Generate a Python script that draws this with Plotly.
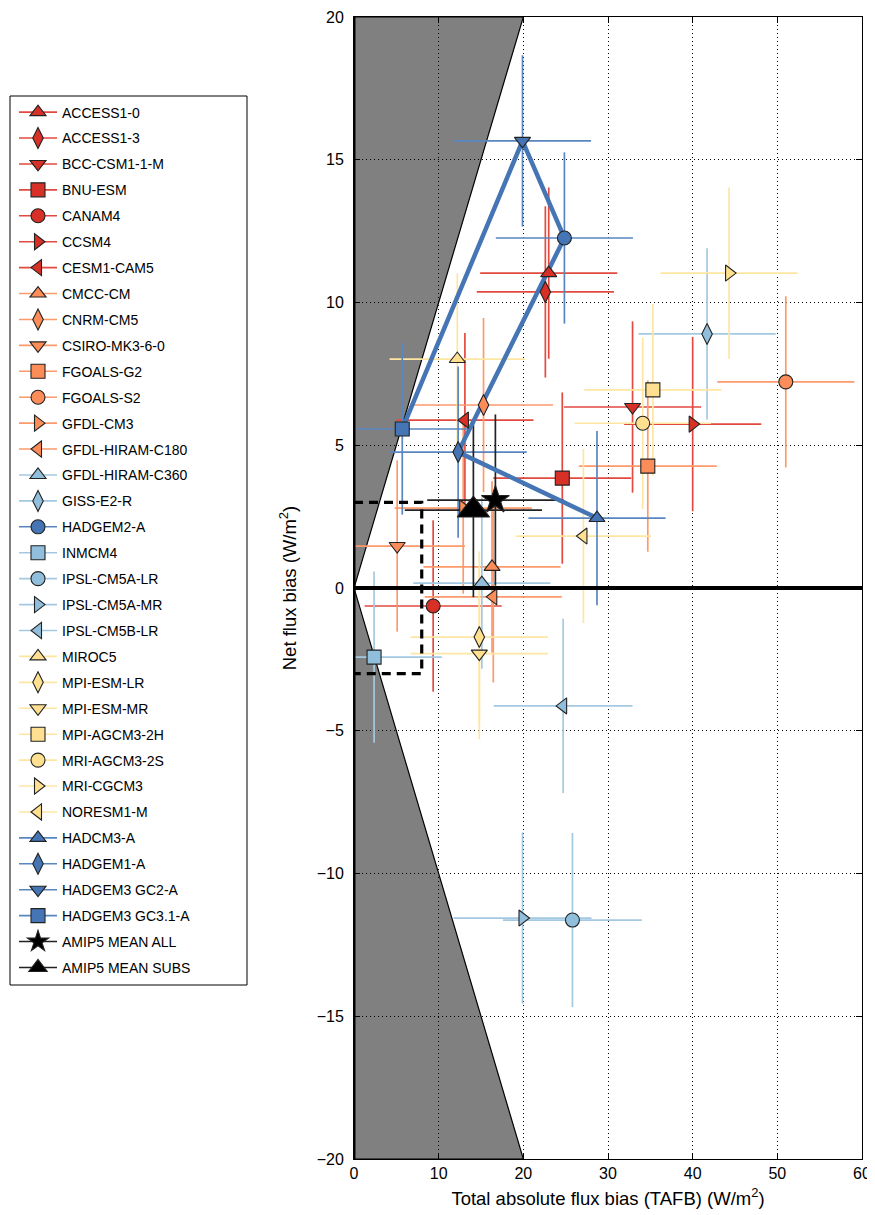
import plotly.graph_objects as go

# ---------------- data ----------------
MODELS = ["ACCESS1-0", "ACCESS1-3", "BCC-CSM1-1-M", "BNU-ESM", "CANAM4", "CCSM4",
          "CESM1-CAM5", "CMCC-CM", "CNRM-CM5", "CSIRO-MK3-6-0", "FGOALS-G2",
          "FGOALS-S2", "GFDL-CM3", "GFDL-HIRAM-C180", "GFDL-HIRAM-C360",
          "GISS-E2-R", "HADGEM2-A", "INMCM4", "IPSL-CM5A-LR", "IPSL-CM5A-MR",
          "IPSL-CM5B-LR", "MIROC5", "MPI-ESM-LR", "MPI-ESM-MR", "MPI-AGCM3-2H",
          "MRI-AGCM3-2S", "MRI-CGCM3", "NORESM1-M", "HADCM3-A", "HADGEM1-A",
          "HADGEM3 GC2-A", "HADGEM3 GC3.1-A", "AMIP5 MEAN ALL", "AMIP5 MEAN SUBS"]

GROUP = ["red"] * 7 + ["orange"] * 7 + ["lightblue"] * 2 + ["blue"] + ["lightblue"] * 4 + \
        ["yellow"] * 7 + ["blue"] * 4 + ["black"] * 2

SYMBOLS = ["triangle-up", "diamond-tall", "triangle-down", "square", "circle", "triangle-right",
           "triangle-left",
           "triangle-up", "diamond-tall", "triangle-down", "square", "circle", "triangle-right",
           "triangle-left",
           "triangle-up", "diamond-tall", "circle", "square", "circle", "triangle-right",
           "triangle-left",
           "triangle-up", "diamond-tall", "triangle-down", "square", "circle", "triangle-right",
           "triangle-left",
           "triangle-up", "diamond-tall", "triangle-down", "square",
           "star", "triangle-up"]

TAFB = [23.0, 22.6, 32.9, 24.6, 9.35, 40.0, 13.1,
        16.3, 15.3, 5.1, 34.7, 51.0, 12.9, 16.45,
        15.1, 41.7, 24.85, 2.37, 25.8, 19.9, 24.7,
        12.2, 14.8, 14.8, 35.3, 34.1, 44.3, 27.1,
        28.7, 12.3, 19.9, 5.7,
        16.7, 14.1]

NET = [11.03, 10.37, 6.34, 3.85, -0.63, 5.74, 5.88,
       0.74, 6.41, 1.47, 4.27, 7.22, 2.80, -0.31,
       0.17, 8.9, 12.26, -2.42, -11.63, -11.56, -4.13,
       8.02, -1.72, -2.30, 6.94, 5.77, 11.03, 1.82,
       2.45, 4.76, 15.66, 5.57,
       3.08, 2.73]

TAFB_ERR = [8.1, 8.1, 8.1, 8.15, 8.1, 8.1, 8.1,
            8.1, 8.2, 8.0, 8.15, 8.1, 8.1, 8.1,
            8.1, 8.1, 8.1, 8.0, 8.2, 8.15, 8.2,
            8.0, 8.1, 8.1, 8.1, 8.05, 8.1, 8.0,
            8.1, 8.1, 8.1, 8.0,
            8.05, 8.1]

NET_ERR = [3.0, 3.0, 3.0, 3.0, 3.0, 3.05, 3.05,
           3.0, 3.05, 3.0, 3.0, 3.0, 3.0, 3.0,
           3.0, 3.0, 3.0, 3.0, 3.05, 3.0, 3.05,
           3.0, 3.0, 3.0, 3.0, 3.0, 3.0, 3.05,
           3.05, 3.0, 3.0, 3.0,
           3.0, 3.05]

# Hadley Centre model evolution path
PATH_MODELS = ["HADGEM3 GC3.1-A", "HADGEM3 GC2-A", "HADGEM2-A", "HADGEM1-A", "HADCM3-A"]

X_TICKS = [0, 10, 20, 30, 40, 50, 60]
Y_TICKS = [-20, -15, -10, -5, 0, 5, 10, 15, 20]
X_RANGE = [0, 60]
Y_RANGE = [-20, 20]
TAFB_THRESH = 8
NET_THRESH = 3

# ---------------- styles ----------------
MARKER_COL = {"red": "#d73027", "orange": "#fc8d59", "lightblue": "#91bfdb",
              "yellow": "#fee090", "blue": "#4575b4", "black": "#000000"}
ERR_COL = {"red": "#e34a3f", "orange": "#fc9a6c", "lightblue": "#a3c9e2",
           "yellow": "#fee6a2", "blue": "#5a86c0", "black": "#222222"}
SYM_SIZE = {"triangle-up": 14, "triangle-down": 14, "triangle-left": 14, "triangle-right": 14,
            "diamond-tall": 15, "square": 14, "circle": 14, "star": 21}

FONT = "Liberation Sans, Arial, sans-serif"

fig = go.Figure()

# error bars (drawn first)
for i, m in enumerate(MODELS):
    g = GROUP[i]
    fig.add_trace(go.Scatter(
        x=[TAFB[i]], y=[NET[i]], mode="markers",
        marker=dict(size=1, opacity=0),
        error_x=dict(type="data", array=[TAFB_ERR[i]], color=ERR_COL[g], thickness=1.7, width=0),
        error_y=dict(type="data", array=[NET_ERR[i]], color=ERR_COL[g], thickness=1.7, width=0),
        showlegend=False, hoverinfo="skip"))

# Hadley path
idx = [MODELS.index(m) for m in PATH_MODELS]
fig.add_trace(go.Scatter(
    x=[TAFB[i] for i in idx], y=[NET[i] for i in idx], mode="lines",
    line=dict(color="#4575b4", width=4.5), showlegend=False, hoverinfo="skip"))

# markers with legend
for i, m in enumerate(MODELS):
    g = GROUP[i]
    size = 28 if m == "AMIP5 MEAN SUBS" else SYM_SIZE[SYMBOLS[i]]
    fig.add_trace(go.Scatter(
        x=[TAFB[i]], y=[NET[i]], mode="lines+markers", name=m, legendgroup=m,
        line=dict(color=ERR_COL[g], width=1.6),
        marker=dict(symbol=SYMBOLS[i], size=size, color=MARKER_COL[g],
                    line=dict(color="#222222", width=1.1))))

ymax = Y_RANGE[1]
# page offset of the figure (body margin) is 8 px
PLOT_L, PLOT_W, PLOT_T, PLOT_H = 354, 508, 17, 1142


def px_x(p):
    return (p - PLOT_L) / PLOT_W


def px_y(p):
    return 1 - (p - PLOT_T) / PLOT_H


shapes = [
    # legend frame
    dict(type="rect", xref="paper", yref="paper", layer="above",
         x0=px_x(10), x1=px_x(247), y0=px_y(985), y1=px_y(96),
         fillcolor="white", line=dict(color="black", width=1)),
    # impossible region |net| > TAFB
    dict(type="path", xref="x", yref="y", layer="below",
         path=f"M 0,{ymax} L {ymax},{ymax} L 0,0 L {ymax},{-ymax} L 0,{-ymax} Z",
         fillcolor="#808080", line=dict(color="black", width=1.2)),
    # zero line
    dict(type="line", xref="paper", yref="y", x0=0, x1=1, y0=0, y1=0, layer="above",
         line=dict(color="black", width=4)),
    # left axis thick line
    dict(type="line", xref="x", yref="paper", x0=0, x1=0, y0=0, y1=1, layer="above",
         line=dict(color="black", width=3)),
    # threshold box
    dict(type="path", xref="x", yref="y", layer="above",
         path=f"M 0,{NET_THRESH} L {TAFB_THRESH},{NET_THRESH} L {TAFB_THRESH},{-NET_THRESH} L 0,{-NET_THRESH}",
         line=dict(color="black", width=3.2, dash="9px,6px")),
]

fig.update_layout(
    width=875, height=1215,
    margin=dict(l=346, r=21, t=9, b=64, autoexpand=False),
    paper_bgcolor="white", plot_bgcolor="white",
    font=dict(family=FONT, size=16, color="black"),
    shapes=shapes,
    showlegend=True,
    legend=dict(x=px_x(14), y=px_y(96.5), xanchor="left", yanchor="top",
                bgcolor="rgba(0,0,0,0)", borderwidth=0,
                font=dict(family=FONT, size=14, color="black"),
                tracegroupgap=4.72, itemsizing="trace", itemwidth=38),
    xaxis=dict(range=X_RANGE, tickvals=X_TICKS, showline=True, linecolor="black", linewidth=1,
               mirror="ticks", ticks="inside", ticklen=6, tickcolor="black",
               showgrid=True, gridcolor="black", gridwidth=1, griddash="1px,3px",
               zeroline=False, tickfont=dict(size=16),
               title=dict(text="Total absolute flux bias (TAFB) (W/m<sup>2</sup>)",
                          standoff=10, font=dict(size=18.5))),
    yaxis=dict(range=Y_RANGE, tickvals=Y_TICKS, showline=True, linecolor="black", linewidth=1,
               mirror="ticks", ticks="inside", ticklen=6, tickcolor="black",
               showgrid=True, gridcolor="black", gridwidth=1, griddash="1px,3px",
               zeroline=False, tickfont=dict(size=16), ticklabelstandoff=6,
               title=dict(text="Net flux bias (W/m<sup>2</sup>)", standoff=15,
                          font=dict(size=18.5))),
)

fig.write_html("out.html")
